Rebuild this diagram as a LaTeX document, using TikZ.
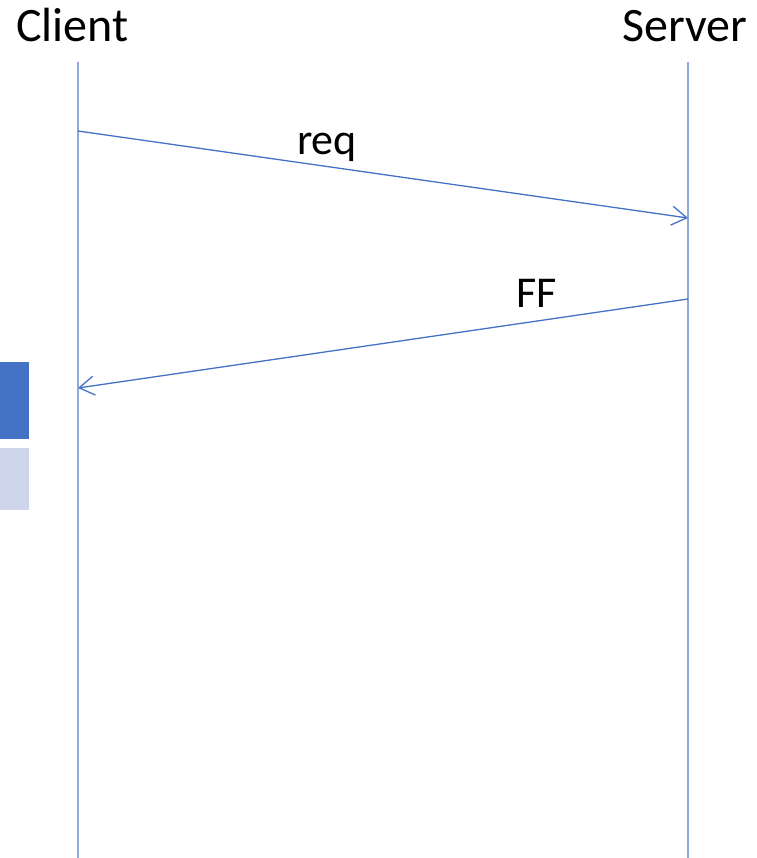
\documentclass[tikz,border=0pt]{standalone}
\usepackage{fontspec}
\setmainfont{Carlito}
\usetikzlibrary{arrows.meta}
\definecolor{lifeblue}{HTML}{8EA9DB}
\definecolor{arrblue}{HTML}{4472C4}
\definecolor{lightbox}{HTML}{CFD5EA}
\tikzset{
  lbl/.style={anchor=base, font=\fontsize{48}{54}\selectfont, inner sep=0pt},
  msglbl/.style={anchor=base, font=\fontsize{44}{50}\selectfont, inner sep=0pt},
  lifeline/.style={draw=lifeblue, line width=2pt},
  msg/.style={draw=arrblue, line width=1.3pt, -{Straight Barb[length=15pt,width=19pt,line width=1.3pt]}}
}
\begin{document}
\begin{tikzpicture}[x=1pt,y=-1pt]
\useasboundingbox (0,0) rectangle (756,858);
\node[lbl] (client) at (72.5,42) {Client};
\node[lbl] (server) at (685,42) {Server};
\coordinate (ctop) at (78,62);
\coordinate (cbot) at (78,858);
\coordinate (stop) at (688,62);
\coordinate (sbot) at (688,858);
\draw[lifeline] (ctop) -- (cbot);
\draw[lifeline] (stop) -- (sbot);
\coordinate (reqs) at (78,131);
\coordinate (reqe) at (688,218);
\coordinate (ffs) at (688,299);
\coordinate (ffe) at (78,388);
\draw[msg] (reqs) -- (reqe);
\draw[msg] (ffs) -- (ffe);
\node[msglbl] (req) at (327,155) {req};
\node[msglbl] (ff) at (537,307) {FF};
\fill[arrblue] (0,362) rectangle (29,439);
\fill[lightbox] (0,448) rectangle (29,510);
\end{tikzpicture}
\end{document}
